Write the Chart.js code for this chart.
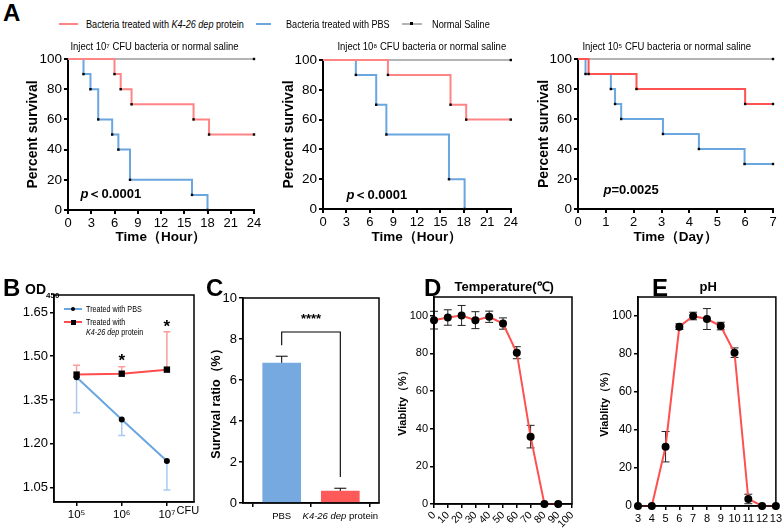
<!DOCTYPE html>
<html><head><meta charset="utf-8">
<script src="https://cdn.jsdelivr.net/npm/chart.js@4.4.1/dist/chart.umd.min.js"></script>
<style>
html,body{margin:0;padding:0;background:#fff;}
#fig{position:relative;width:784px;height:532px;overflow:hidden;font-family:'Liberation Sans',Arial,sans-serif;color:#000;}
.box{position:absolute;}
.txt{position:absolute;white-space:nowrap;line-height:1;}
.letter{font-weight:bold;font-size:24px;}
</style></head><body><div id="fig"></div>
<script>
// ---------- DATA ----------
// Panel A: Kaplan-Meier survival (time, percent survival)
const a1Title = 'Inject 10⁷ CFU bacteria or normal saline';
const a1ProteinTime = [0, 6, 6.8, 8.2, 16.2, 18.2, 24];
const a1ProteinSurv = [100, 90, 80, 70, 60, 50, 50];
const a1PbsTime = [0, 2, 2.9, 3.9, 5.7, 6.5, 8, 16, 18];
const a1PbsSurv = [100, 90, 80, 60, 50, 40, 20, 10, 0];
const a1SalineTime = [0, 24];
const a1SalineSurv = [100, 100];
const a1P = '<i>p</i>＜0.0001';

const a2Title = 'Inject 10⁸ CFU bacteria or normal saline';
const a2ProteinTime = [0, 8.3, 16.3, 18.3, 24];
const a2ProteinSurv = [100, 90, 70, 60, 60];
const a2PbsTime = [0, 4.2, 6.8, 8.1, 16.1, 18.1];
const a2PbsSurv = [100, 90, 70, 50, 20, 0];
const a2SalineTime = [0, 24];
const a2SalineSurv = [100, 100];
const a2P = '<i>p</i>＜0.0001';

const a3Title = 'Inject 10⁵ CFU bacteria or normal saline';
const a3ProteinTime = [0, 0.38, 2.1, 6.0, 7];
const a3ProteinSurv = [100, 90, 80, 70, 70];
const a3PbsTime = [0, 0.27, 1.18, 1.33, 1.55, 3.05, 4.34, 5.98, 7];
const a3PbsSurv = [100, 90, 80, 70, 60, 50, 40, 30, 30];
const a3SalineTime = [0, 7];
const a3SalineSurv = [100, 100];
const a3P = '<i>p</i>=0.0025';

const legendA = ['Bacteria treated with <i>K4-26 dep</i> protein', 'Bacteria treated with PBS', 'Normal Saline'];

// Panel B: OD450 vs inoculum
const bDoseLog = [5, 6, 7];
const bDoseLabels = ['10⁵', '10⁶', '10⁷'];
const bYTicks = [1.05, 1.20, 1.35, 1.50, 1.65];
const bPbs = [1.428, 1.283, 1.141];
const bPbsErr = [0.122, 0.055, 0.100];
const bProtein = [1.437, 1.440, 1.454];
const bProteinErr = [0.032, 0.024, 0.130];
const bStarX = [6, 7];
const bStarY = [1.50, 1.617];

// Panel C: survival ratio bars
const cCategories = [[{t:'PBS'}], [{t:'K4-26 dep', it:true}, {t:' protein'}]];
const cValues = [6.82, 0.58];
const cErrors = [0.34, 0.14];
const cBracket = {top: 8.34, leftBottom: 7.7, rightBottom: 1.27, stars: '****', starsY: 9.1};

// Panel D: temperature
const dTemp = [0, 10, 20, 30, 40, 50, 60, 70, 80, 90];
const dViab = [97.7, 99.1, 100.2, 97.7, 99.5, 95.9, 80.4, 35.8, 0, 0];
const dErr = [4.7, 4.1, 5.3, 4.5, 3.0, 3.0, 3.2, 6.0, 0, 0];

// Panel E: pH
const ePH = [3, 4, 5, 6, 7, 8, 9, 10, 11, 12, 13];
const eViab = [0, 0, 31.2, 94.4, 100, 98.4, 94.7, 80.7, 3.7, 0, 0];
const eErr = [0, 0, 8, 1.5, 2, 5.5, 2, 2.5, 2.5, 0, 0];

// ---------- STYLE ----------
const FONT = "'Liberation Sans', Arial, sans-serif";
const RED_A = '#ff8484', RED_A3 = '#ff5252', BLUE_A = '#6aa6e0', GRAY = '#b4b4b4';
Chart.defaults.font.family = FONT;
Chart.defaults.color = '#000';

const FIG = document.getElementById('fig');
function place(html, l, t, cls, style, sx){
  const d = document.createElement('div');
  d.className = 'txt ' + (cls || '');
  if (style) d.style.cssText = style;
  d.style.left = l + 'px'; d.style.top = t + 'px';
  if (sx) { d.style.transform = `scaleX(${sx})`; d.style.transformOrigin = 'left center'; }
  d.innerHTML = html; FIG.appendChild(d); return d;
}
function centered(html, cx, cy, cls, style, sx){
  const d = place(html, 0, 0, cls, style);
  d.style.left = (cx - d.offsetWidth / 2) + 'px';
  d.style.top = (cy - d.offsetHeight / 2) + 'px';
  if (sx) { d.style.transform = `scaleX(${sx})`; d.style.transformOrigin = 'center center'; }
  return d;
}
function makeChart(l, t, w, h, cfg){
  const d = document.createElement('div');
  d.className = 'box';
  d.style.cssText = `left:${l}px;top:${t}px;width:${w}px;height:${h}px;`;
  const c = document.createElement('canvas');
  c.width = w; c.height = h; c.style.width = w + 'px'; c.style.height = h + 'px';
  d.appendChild(c); FIG.appendChild(d);
  cfg.options = Object.assign({responsive:false, animation:false, devicePixelRatio:1}, cfg.options);
  return new Chart(c.getContext('2d'), cfg);
}
function lin(o){
  const s = {
    type:'linear', min:o.min, max:o.max, offset:false,
    border:{display:true, color:'#000', width:o.bw || 2},
    grid:{display:true, drawOnChartArea:false, drawTicks:true, tickLength:o.tl || 5, color:'#000', lineWidth:o.bw || 2},
    ticks:{font:{family:FONT, size:o.fs || 13}, color:'#000', padding:o.tp != null ? o.tp : 2,
      includeBounds:false, autoSkip:false, maxRotation:o.rot || 0, minRotation:o.rot || 0},
    title:{display:!!o.title, text:o.title || '', color:'#000',
      font:{family:FONT, size:o.tfs || 14, weight:'bold'}, padding:o.tpad || {top:0, bottom:0}},
    afterFit:(sc)=>{ if (o.w != null) sc.width = o.w; if (o.h != null) sc.height = o.h; }
  };
  if (o.step != null) s.ticks.stepSize = o.step;
  if (o.cb) s.ticks.callback = o.cb;
  if (o.display === false) s.ticks.display = false;
  if (o.ticksAt) s.afterBuildTicks = (sc)=>{ sc.ticks = o.ticksAt.map(v=>({value:v})); };
  return s;
}
const framePlugin = {
  id:'frame',
  afterDraw(chart, args, opts){
    if (!opts || !opts.show) return;
    const a = chart.chartArea, ctx = chart.ctx;
    ctx.save(); ctx.strokeStyle = '#000'; ctx.lineWidth = opts.width || 1.5;
    ctx.strokeRect(a.left, a.top, a.right - a.left, a.bottom - a.top); ctx.restore();
  }
};
const errPlugin = {
  id:'errbars',
  beforeDatasetsDraw(chart){
    const ctx = chart.ctx;
    chart.data.datasets.forEach((ds, i)=>{
      if (!ds.errors) return;
      const meta = chart.getDatasetMeta(i);
      const ys = chart.scales[meta.yAxisID];
      ctx.save(); ctx.strokeStyle = ds.errColor || '#000'; ctx.lineWidth = ds.errWidth || 1;
      meta.data.forEach((el, j)=>{
        const e = ds.errors[j]; if (!e) return;
        const raw = ds.data[j]; const v = (typeof raw === 'object') ? raw.y : raw;
        const x = el.x, yv = ys.getPixelForValue(v);
        const up = ds.errDir !== 'down' ? ys.getPixelForValue(v + e) : yv;
        const dn = ds.errDir !== 'up' ? ys.getPixelForValue(v - e) : yv;
        const cw = (ds.errCap || 8) / 2;
        ctx.beginPath(); ctx.moveTo(x, up); ctx.lineTo(x, dn);
        if (ds.errDir !== 'down') { ctx.moveTo(x - cw, up); ctx.lineTo(x + cw, up); }
        if (ds.errDir !== 'up') { ctx.moveTo(x - cw, dn); ctx.lineTo(x + cw, dn); }
        ctx.stroke();
      });
      ctx.restore();
    });
  }
};
function pts(xs, ys){ return xs.map((x, i)=>({x, y:ys[i]})); }
function censor(n){ return Array.from({length:n}, (_, i)=> i === 0 ? 0 : 1.7); }
function kmSet(label, xs, ys, color){
  return {label, data:pts(xs, ys), stepped:'before', borderColor:color, borderWidth:2,
    pointStyle:'rect', pointRadius:censor(xs.length), pointBackgroundColor:'#000', pointBorderWidth:0,
    fill:false, clip:false};
}

// ---------- PANEL A ----------
function survivalChart(l, t, w, h, padTop, padRight, yW, xH, yTitlePad, xMax, xStep, xTitle, sets){
  return makeChart(l, t, w, h, {
    type:'line',
    data:{datasets:sets},
    options:{
      layout:{padding:{top:padTop, right:padRight, bottom:0, left:0}},
      plugins:{legend:{display:false}, tooltip:{enabled:false}},
      scales:{
        x:lin({min:0, max:xMax, step:xStep, fs:13, tl:4, tp:2, w:null, h:xH,
          title:xTitle, tfs:13.5, tpad:{top:0, bottom:5}}),
        y:lin({min:0, max:100, step:20, fs:13.5, tl:4, tp:2, w:yW,
          title:'Percent survival', tfs:14, tpad:{top:yTitlePad, bottom:0}})
      }
    }
  });
}
survivalChart(0, 40, 270, 210, 19, 16, 68, 40, 24.6, 24, 3, 'Time（Hour）', [
  kmSet('protein', a1ProteinTime, a1ProteinSurv, RED_A),
  kmSet('pbs', a1PbsTime, a1PbsSurv, BLUE_A),
  kmSet('saline', a1SalineTime, a1SalineSurv, GRAY)
]);
survivalChart(260, 40, 260, 210, 20, 8, 63, 41, 20.6, 24, 3, 'Time（Hour）', [
  kmSet('protein', a2ProteinTime, a2ProteinSurv, RED_A),
  kmSet('pbs', a2PbsTime, a2PbsSurv, BLUE_A),
  kmSet('saline', a2SalineTime, a2SalineSurv, GRAY)
]);
survivalChart(515, 40, 269, 210, 19, 11, 63, 41, 20.6, 7, 1, 'Time（Day）', [
  kmSet('protein', a3ProteinTime, a3ProteinSurv, RED_A3),
  kmSet('pbs', a3PbsTime, a3PbsSurv, BLUE_A),
  kmSet('saline', a3SalineTime, a3SalineSurv, GRAY)
]);

// ---------- PANEL B ----------
const bStarPlugin = {
  id:'bstars',
  afterDatasetsDraw(chart){
    const ctx = chart.ctx, xs = chart.scales.x, ys = chart.scales.y;
    ctx.save(); ctx.font = `bold 17px ${FONT}`; ctx.fillStyle = '#000'; ctx.textAlign = 'center'; ctx.textBaseline = 'alphabetic';
    bStarX.forEach((x, i)=> ctx.fillText('*', xs.getPixelForValue(x), ys.getPixelForValue(bStarY[i]) + 10));
    ctx.restore();
  }
};
makeChart(0, 280, 200, 252, {
  type:'line',
  data:{datasets:[
    {label:'Treated with K4-26 dep protein', data:pts(bDoseLog, bProtein), borderColor:'#ff4d4d', borderWidth:2,
      pointStyle:'rect', pointRadius:4.5, pointBackgroundColor:'#000', pointBorderWidth:0, clip:false,
      errors:bProteinErr, errDir:'up', errColor:'#ff9c9c', errWidth:1.5, errCap:7},
    {label:'Treated with PBS', data:pts(bDoseLog, bPbs), borderColor:'#6aa6e0', borderWidth:2,
      pointStyle:'circle', pointRadius:3, pointBackgroundColor:'#000', pointBorderWidth:0, clip:false,
      errors:bPbsErr, errDir:'down', errColor:'#a9caee', errWidth:1.5, errCap:7}
  ]},
  options:{
    layout:{padding:{top:15, right:6, bottom:0, left:0}},
    plugins:{legend:{display:false}, tooltip:{enabled:false}, frame:{show:true, width:1.5}},
    scales:{
      x:lin({min:4.5, max:7.6, ticksAt:bDoseLog, cb:(v)=> bDoseLabels[bDoseLog.indexOf(v)], fs:11.5, tl:4, tp:2, h:30, bw:1.5}),
      y:lin({min:1.0, max:1.71, ticksAt:bYTicks, cb:(v)=> v.toFixed(2), fs:13, tl:4, tp:2, w:54, bw:1.5})
    }
  },
  plugins:[errPlugin, framePlugin, bStarPlugin]
});

// ---------- PANEL C ----------
const cDecor = {
  id:'cdecor',
  afterDraw(chart){
    const ctx = chart.ctx, xs = chart.scales.x, ys = chart.scales.y;
    const xl = xs.getPixelForValue(0), xr = xs.getPixelForValue(1);
    ctx.save(); ctx.strokeStyle = '#000'; ctx.lineWidth = 1.1;
    ctx.beginPath();
    ctx.moveTo(xl, ys.getPixelForValue(cBracket.leftBottom)); ctx.lineTo(xl, ys.getPixelForValue(cBracket.top));
    ctx.lineTo(xr, ys.getPixelForValue(cBracket.top)); ctx.lineTo(xr, ys.getPixelForValue(cBracket.rightBottom));
    ctx.stroke();
    ctx.fillStyle = '#000'; ctx.font = `bold 13px ${FONT}`; ctx.textAlign = 'center'; ctx.textBaseline = 'alphabetic';
    ctx.fillText(cBracket.stars, (xl + xr) / 2, ys.getPixelForValue(cBracket.starsY) + 7);
    const yLab = chart.chartArea.bottom + 13;
    ctx.textAlign = 'left'; ctx.textBaseline = 'middle';
    cCategories.forEach((parts, i)=>{
      const fonts = parts.map(p=> `${p.it ? 'italic ' : ''}9.5px ${FONT}`);
      let wsum = 0; const ws = parts.map((p, k)=>{ ctx.font = fonts[k]; const w = ctx.measureText(p.t).width; wsum += w; return w; });
      let x = xs.getPixelForValue(i) - wsum / 2;
      parts.forEach((p, k)=>{ ctx.font = fonts[k]; ctx.fillText(p.t, x, yLab); x += ws[k]; });
    });
    ctx.restore();
  }
};
makeChart(195, 280, 200, 252, {
  type:'bar',
  data:{datasets:[{
    label:'Survival ratio', data:cValues.map((v, i)=>({x:i, y:v})),
    backgroundColor:['#76a9e0', '#ff5a5a'], borderWidth:0, barThickness:38,
    errors:cErrors, errDir:'up', errColor:'#000', errWidth:1, errCap:12
  }]},
  options:{
    layout:{padding:{top:18, right:16, bottom:0, left:0}},
    plugins:{legend:{display:false}, tooltip:{enabled:false}, frame:{show:true, width:1.5}},
    scales:{
      x:lin({min:-0.66, max:1.66, ticksAt:[0, 1], display:false, tl:4, h:29, bw:1.5}),
      y:lin({min:0, max:10, step:2, fs:13, tl:4, tp:2, w:48, bw:1.5,
        title:'Survival ratio（%）', tfs:12.5, tpad:{top:14.5, bottom:0}})
    }
  },
  plugins:[errPlugin, framePlugin, cDecor]
});

// ---------- PANEL D ----------
makeChart(390, 280, 200, 252, {
  type:'line',
  data:{datasets:[{
    label:'Temperature', data:pts(dTemp, dViab), borderColor:'#ff5050', borderWidth:2,
    pointStyle:'circle', pointRadius:4, pointBackgroundColor:'#000', pointBorderWidth:0, clip:false,
    errors:dErr, errDir:'both', errColor:'#222', errWidth:1, errCap:8
  }]},
  options:{
    layout:{padding:{top:17, right:18, bottom:0, left:0}},
    plugins:{legend:{display:false}, tooltip:{enabled:false}, frame:{show:true, width:1.5}},
    scales:{
      x:lin({min:0, max:100, step:10, fs:10.5, rot:45, tl:4, tp:1, h:28, bw:1.5}),
      y:lin({min:0, max:110, step:20, fs:11, tl:4, tp:2, w:44, bw:1.5,
        title:'Viablity（%）', tfs:11, tpad:{top:6.4, bottom:0}})
    }
  },
  plugins:[errPlugin, framePlugin]
});

// ---------- PANEL E ----------
makeChart(585, 280, 199, 252, {
  type:'line',
  data:{datasets:[{
    label:'pH', data:pts(ePH, eViab), borderColor:'#ff5050', borderWidth:2,
    pointStyle:'circle', pointRadius:4, pointBackgroundColor:'#000', pointBorderWidth:0, clip:false,
    errors:eErr, errDir:'both', errColor:'#222', errWidth:1, errCap:8
  }]},
  options:{
    layout:{padding:{top:17, right:6, bottom:0, left:0}},
    plugins:{legend:{display:false}, tooltip:{enabled:false}, frame:{show:true, width:1.5}},
    scales:{
      x:lin({min:3, max:13, step:1, fs:11, tl:4, tp:2, h:26, bw:1.5}),
      y:lin({min:0, max:110, step:20, fs:12, tl:4, tp:2, w:53, bw:1.5,
        title:'Viablity（%）', tfs:11, tpad:{top:13.4, bottom:0}})
    }
  },
  plugins:[errPlugin, framePlugin]
});

// ---------- TEXT OVERLAYS ----------
place('A', 3, 1, 'letter');
place('B', 3, 276, 'letter');
place('C', 206, 276, 'letter');
place('D', 424, 276, 'letter');
place('E', 652, 276, 'letter');

// Panel A legend
place('', 59, 23, '', 'width:19px;height:2px;background:' + RED_A + ';');
place(legendA[0], 86, 19.5, '', 'font-size:10px;', 0.91);
place('', 256, 23, '', 'width:15px;height:2px;background:' + BLUE_A + ';');
place(legendA[1], 286, 19.5, '', 'font-size:10px;', 0.91);
place('', 402, 23, '', 'width:20px;height:2px;background:' + GRAY + ';');
place('', 410, 22, '', 'width:3px;height:3px;background:#000;');
place(legendA[2], 432, 19.5, '', 'font-size:10px;', 0.92);

centered(a1Title, 154, 47, '', 'font-size:10px;', 0.95);
centered(a2Title, 422, 47, '', 'font-size:10px;', 0.95);
centered(a3Title, 667, 47, '', 'font-size:10px;', 0.95);
centered(a1P, 111, 193, '', 'font-size:13px;font-weight:bold;');
centered(a2P, 377, 194, '', 'font-size:13px;font-weight:bold;');
centered(a3P, 631, 189, '', 'font-size:13px;font-weight:bold;');

// Panel B labels
place('<b>OD<sub style="font-size:8px;">450</sub></b>', 25, 282, '', 'font-size:14px;');
centered('CFU', 188, 510, '', 'font-size:11px;');
place('', 64, 308, '', 'width:18px;height:2px;background:#6aa6e0;');
place('', 71, 307, '', 'width:4px;height:4px;border-radius:50%;background:#000;');
place('Treated with PBS', 86, 304.5, '', 'font-size:9px;', 0.8);
place('', 64, 321, '', 'width:18px;height:2px;background:#ff4d4d;');
place('', 70.5, 319.5, '', 'width:5px;height:5px;background:#000;');
place('Treated with', 86, 317.5, '', 'font-size:9px;', 0.8);
place('<i>K4-26 dep</i> protein', 86, 328, '', 'font-size:9px;', 0.8);

// Panel D/E titles
centered('Temperature(℃)', 504, 286, '', 'font-size:13px;font-weight:bold;');
centered('pH', 708, 286, '', 'font-size:13px;font-weight:bold;');
</script></body></html>
